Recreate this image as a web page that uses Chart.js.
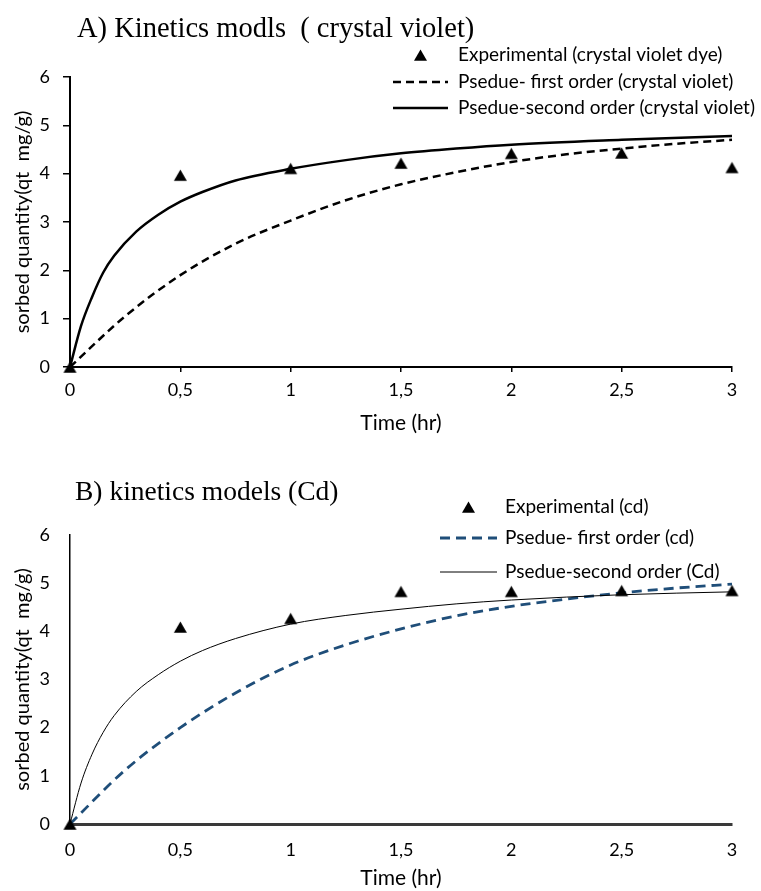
<!DOCTYPE html>
<html><head><meta charset="utf-8">
<script src="https://cdn.jsdelivr.net/npm/chart.js@4.4.1/dist/chart.umd.min.js"></script>
<style>
html,body{margin:0;padding:0;background:#fff;width:761px;height:891px;overflow:hidden;}
#wrapA{position:absolute;left:0;top:0;width:761px;height:445px;}
#wrapB{position:absolute;left:0;top:445px;width:761px;height:446px;}
</style></head><body>
<div id="wrapA"><canvas id="cA" width="761" height="445"></canvas></div>
<div id="wrapB"><canvas id="cB" width="761" height="446"></canvas></div>
<script>
// ---- Data ----
const xTickLabels = ['0', '0,5', '1', '1,5', '2', '2,5', '3'];
const yTickLabels = ['0', '1', '2', '3', '4', '5', '6'];

const titleA = 'A) Kinetics modls  ( crystal violet)';
const titleB = 'B) kinetics models (Cd)';
const xAxisTitle = 'Time (hr)';
const yAxisTitle = 'sorbed quantity(qt  mg/g)';

const labelsA = ['Experimental (crystal violet dye)', 'Psedue- first order (crystal violet)', 'Psedue-second order (crystal violet)'];
const labelsB = ['Experimental (cd)', 'Psedue- first order (cd)', 'Psedue-second order (Cd)'];

const expTimes = [0, 0.5, 1, 1.5, 2, 2.5, 3];
const expA = [0, 3.97, 4.11, 4.22, 4.42, 4.43, 4.13];
const expB = [0, 4.09, 4.27, 4.83, 4.83, 4.85, 4.85];

const pfoTimes = [0, 0.25, 0.5, 0.75, 1, 1.25, 1.5, 1.75, 2, 2.25, 2.5, 2.75, 3];
const pfoA = [0, 1.05, 1.9, 2.55, 3.03, 3.45, 3.78, 4.03, 4.24, 4.4, 4.52, 4.62, 4.7];
const pfoB = [0, 1.12, 2.0, 2.72, 3.3, 3.72, 4.05, 4.32, 4.52, 4.67, 4.8, 4.9, 4.98];

const psoTimes = [0, 0.05, 0.1, 0.15, 0.2, 0.3, 0.4, 0.5, 0.6, 0.75, 1, 1.25, 1.5, 1.75, 2, 2.5, 3];
const psoA = [0, 0.85, 1.45, 1.95, 2.3, 2.8, 3.15, 3.42, 3.62, 3.86, 4.1, 4.28, 4.42, 4.52, 4.6, 4.7, 4.78];
const psoB = [0, 0.85, 1.45, 1.9, 2.25, 2.75, 3.1, 3.38, 3.6, 3.85, 4.15, 4.33, 4.46, 4.57, 4.65, 4.76, 4.82];

// ---- helpers ----
const toXY = (xs, ys) => xs.map((x, i) => ({ x: x, y: ys[i] }));

function drawTri(ctx, cx, cy, r, color) {
  const w = r * Math.sqrt(3), h = 1.5 * r;
  ctx.save();
  ctx.fillStyle = color;
  ctx.beginPath();
  ctx.moveTo(cx, cy - h / 2);
  ctx.lineTo(cx + w / 2, cy + h / 2);
  ctx.lineTo(cx - w / 2, cy + h / 2);
  ctx.closePath();
  ctx.fill();
  ctx.restore();
}

const panelPlugin = {
  id: 'panelDecor',
  afterDraw(chart, args, opts) {
    const ctx = chart.ctx;
    ctx.save();
    ctx.font = opts.titleFont;
    ctx.fillStyle = '#000';
    ctx.textAlign = 'left';
    ctx.textBaseline = 'alphabetic';
    ctx.fillText(opts.title, opts.titleX, opts.titleY);
    ctx.font = opts.legendFont;
    ctx.textBaseline = 'middle';
    chart.data.datasets.forEach((ds, i) => {
      const y = opts.rows[i];
      const x0 = opts.sampleX, x1 = opts.sampleX + opts.sampleW;
      if (ds.showLine === false) {
        drawTri(ctx, (x0 + x1) / 2, y, ds.pointRadius, ds.pointBackgroundColor);
      } else {
        ctx.strokeStyle = ds.borderColor;
        ctx.lineWidth = ds.borderWidth;
        ctx.setLineDash(ds.borderDash || []);
        ctx.beginPath();
        ctx.moveTo(x0, y);
        ctx.lineTo(x1, y);
        ctx.stroke();
        ctx.setLineDash([]);
      }
      ctx.fillStyle = '#000';
      ctx.fillText(ds.label, opts.textX, y);
    });
    ctx.restore();
  }
};

function triCanvas(r, color) {
  const c = document.createElement('canvas');
  const w = Math.ceil(r * Math.sqrt(3)) + 2, h = Math.ceil(1.5 * r) + 2;
  c.width = w; c.height = h;
  const cx = c.getContext('2d');
  drawTri(cx, w / 2, h / 2, r, color);
  return c;
}

function makeChart(id, cfg) {
  const tickFont = { family: 'Lato', size: 18 };
  return new Chart(document.getElementById(id), {
    type: 'scatter',
    data: {
      datasets: [
        {
          label: cfg.labels[0],
          data: toXY(expTimes, cfg.exp),
          showLine: false,
          pointStyle: triCanvas(7.5, '#000'),
          pointRadius: 7.5,
          pointBackgroundColor: '#000',
          pointBorderColor: '#000',
          clip: false,
          order: 0
        },
        {
          label: cfg.labels[1],
          data: toXY(pfoTimes, cfg.pfo),
          showLine: true,
          borderColor: cfg.pfoColor,
          borderWidth: cfg.pfoWidth,
          borderDash: cfg.pfoDash,
          pointRadius: 0,
          cubicInterpolationMode: 'monotone',
          clip: false,
          order: 2
        },
        {
          label: cfg.labels[2],
          data: toXY(psoTimes, cfg.pso),
          showLine: true,
          borderColor: '#000',
          borderWidth: cfg.psoWidth,
          pointRadius: 0,
          cubicInterpolationMode: 'monotone',
          clip: false,
          order: 1
        }
      ]
    },
    options: {
      responsive: false,
      animation: false,
      events: [],
      layout: { padding: { top: cfg.top, right: 29, left: 0, bottom: 0 } },
      plugins: {
        legend: { display: false },
        tooltip: { enabled: false },
        panelDecor: cfg.decor
      },
      scales: {
        x: {
          type: 'linear', min: 0, max: 3,
          afterFit: s => { s.height = cfg.xHeight; },
          afterBuildTicks: s => { s.ticks = xTickLabels.map((t, i) => ({ value: i * 0.5 })); },
          ticks: {
            color: '#000', font: tickFont, padding: cfg.xTickPad, maxRotation: 0, autoSkip: false,
            callback: (v, i) => xTickLabels[i]
          },
          grid: { drawOnChartArea: false, drawTicks: true, tickLength: 5, color: '#000', tickColor: cfg.tickColor, lineWidth: 1.5 },
          border: { display: true, color: cfg.xBorderColor, width: cfg.xBorderWidth },
          title: { display: true, text: xAxisTitle, color: '#000', font: { family: 'Lato', size: 21 }, padding: { top: 0, bottom: cfg.xTitlePad } }
        },
        y: {
          type: 'linear', min: 0, max: 6,
          afterFit: s => { s.width = 70; },
          afterBuildTicks: s => { s.ticks = yTickLabels.map((t, i) => ({ value: i })); },
          ticks: {
            color: '#000', font: tickFont, padding: 13, autoSkip: false,
            callback: (v, i) => yTickLabels[i]
          },
          grid: { drawOnChartArea: false, drawTicks: true, tickLength: 7, color: '#000', tickColor: cfg.tickColor, lineWidth: 1.5 },
          border: { display: true, color: '#000', width: cfg.yBorderWidth },
          title: { display: true, text: yAxisTitle, color: '#000', font: { family: 'Lato', size: 20 }, padding: { top: 11, bottom: 0 } }
        }
      }
    },
    plugins: [panelPlugin]
  });
}

function draw() {
  makeChart('cA', {
    labels: labelsA, exp: expA, pfo: pfoA, pso: psoA,
    pfoColor: '#000', pfoWidth: 2.5, pfoDash: [8, 5], psoWidth: 2.5,
    top: 77, xHeight: 78, xTickPad: 7, xTitlePad: 9,
    tickColor: '#000', xBorderColor: '#000', xBorderWidth: 2, yBorderWidth: 2,
    decor: {
      title: titleA, titleX: 77, titleY: 37, titleFont: '28.5px "Liberation Serif"',
      legendFont: '19px Lato', rows: [55, 82, 108], sampleX: 393, sampleW: 55, textX: 458
    }
  });
  makeChart('cB', {
    labels: labelsB, exp: expB, pfo: pfoB, pso: psoB,
    pfoColor: '#1F4E79', pfoWidth: 2.8, pfoDash: [10, 6], psoWidth: 1,
    top: 90, xHeight: 67, xTickPad: 10, xTitlePad: 0,
    tickColor: 'rgba(0,0,0,0)', xBorderColor: '#3a3a3a', xBorderWidth: 3, yBorderWidth: 1.5,
    decor: {
      title: titleB, titleX: 75, titleY: 55, titleFont: '27.5px "Liberation Serif"',
      legendFont: '19px Lato', rows: [62, 93, 127], sampleX: 440, sampleW: 57, textX: 505
    }
  });
}

Promise.all([
  document.fonts.load('18px Lato'),
  document.fonts.load('27px "Liberation Serif"')
]).then(draw, draw);
</script>
</body></html>
